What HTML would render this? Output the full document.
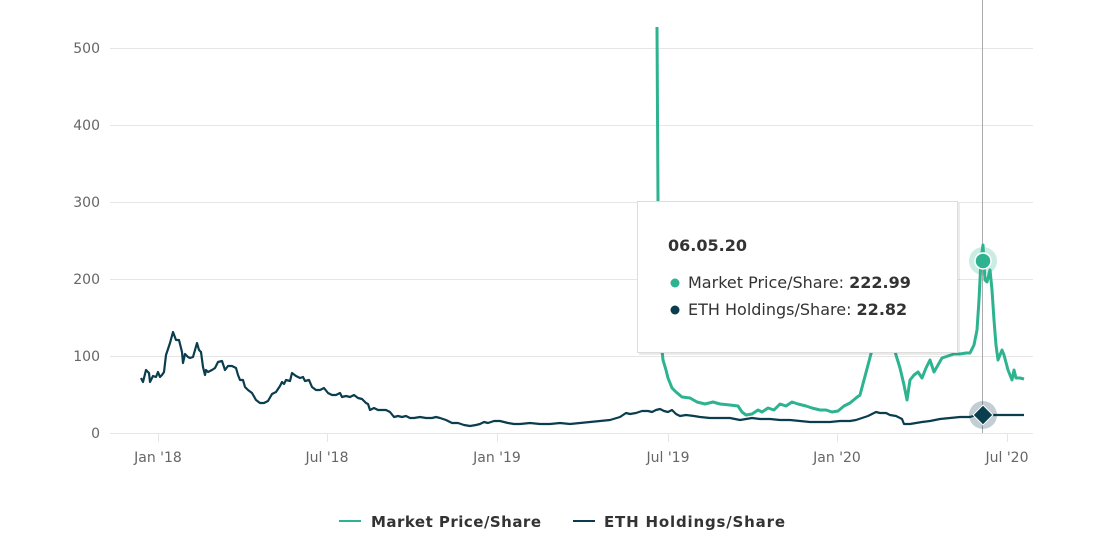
<!DOCTYPE html>
<html><head><style>
body{margin:0;background:#fff;}
svg text{font-family:"DejaVu Sans","Liberation Sans",sans-serif;}
</style></head><body>
<svg width="1119" height="554" viewBox="0 0 1119 554" xmlns="http://www.w3.org/2000/svg">
<g stroke="#e6e6e6" stroke-width="1">
<line x1="110" x2="1033" y1="48.5" y2="48.5"/>
<line x1="110" x2="1033" y1="125.5" y2="125.5"/>
<line x1="110" x2="1033" y1="202.5" y2="202.5"/>
<line x1="110" x2="1033" y1="279.5" y2="279.5"/>
<line x1="110" x2="1033" y1="356.5" y2="356.5"/>
<line x1="110" x2="1033" y1="433.5" y2="433.5"/>
</g>
<g stroke="#e6e6e6" stroke-width="1">
<line x1="158.5" x2="158.5" y1="434" y2="442"/>
<line x1="327.5" x2="327.5" y1="434" y2="442"/>
<line x1="497.5" x2="497.5" y1="434" y2="442"/>
<line x1="668.5" x2="668.5" y1="434" y2="442"/>
<line x1="837.5" x2="837.5" y1="434" y2="442"/>
<line x1="1007.5" x2="1007.5" y1="434" y2="442"/>
</g>
<g fill="#666" font-size="14" text-anchor="end">
<text x="100" y="53">500</text>
<text x="100" y="130">400</text>
<text x="100" y="207">300</text>
<text x="100" y="284">200</text>
<text x="100" y="361">100</text>
<text x="100" y="438">0</text>
</g>
<g fill="#666" font-size="14" text-anchor="middle">
<text x="158" y="462">Jan '18</text>
<text x="327" y="462">Jul '18</text>
<text x="497" y="462">Jan '19</text>
<text x="668" y="462">Jul '19</text>
<text x="837" y="462">Jan '20</text>
<text x="1007" y="462">Jul '20</text>
</g>
<line x1="982.5" x2="982.5" y1="0" y2="433" stroke="#aaa" stroke-width="1"/>
<polyline fill="none" stroke="#2db390" stroke-width="3" stroke-linejoin="round" points="657,27 658,200 660,330 663,360 666,370 668,378 672,388 676,392 682,397 690,398 697,402 705,404 713,402 720,404 730,405 738,406 742,412 746,415 752,414 758,410 762,412 768,408 774,410 780,404 786,406 792,402 798,404 806,406 812,408 820,410 826,410 832,412 838,411 844,406 850,403 856,398 860,395 864,380 868,365 872,350 876,340 880,330 884,325 890,330 896,355 900,368 904,385 907,400 910,380 914,375 918,372 922,378 926,368 930,360 934,372 938,365 942,358 948,356 954,354 960,354 966,353 970,353 974,345 977,330 979,300 981,260 983,245 985,280 987,282 990,270 992,290 994,320 996,345 998,360 1002,350 1004,355 1008,370 1012,380 1014,370 1016,378 1020,378 1024,379"/>
<polyline fill="none" stroke="#0a3d4e" stroke-width="2.2" stroke-linejoin="round" points="141,378 143,382 146,370 149,373 150,382 153,376 156,377 158,372 160,377 162,375 164,372 166,355 170,343 173,332 176,340 179,340 182,352 183,363 185,354 188,357 190,358 193,357 195,350 197,343 199,350 201,352 203,367 205,375 206,370 208,372 212,370 215,368 218,362 222,361 225,370 228,366 232,366 236,368 238,375 240,380 243,380 245,387 248,390 252,393 256,400 260,403 264,403 268,401 272,394 276,392 280,386 282,382 284,384 286,380 290,381 292,373 296,376 300,378 303,377 305,381 309,380 312,387 316,390 320,390 324,388 328,393 332,395 336,395 340,393 342,397 346,396 350,397 354,395 358,398 362,399 364,401 366,403 368,404 370,410 374,408 378,410 382,410 386,410 390,412 394,417 398,416 402,417 406,416 410,418 414,418 420,417 426,418 432,418 436,417 440,418 446,420 452,423 458,423 464,425 470,426 476,425 480,424 484,422 488,423 494,421 500,421 508,423 514,424 520,424 530,423 540,424 550,424 560,423 570,424 580,423 590,422 600,421 610,420 620,417 626,413 630,414 636,413 642,411 648,411 652,412 656,410 660,409 664,411 668,412 672,410 676,414 680,416 686,415 694,416 700,417 710,418 720,418 730,418 740,420 746,419 752,418 760,419 770,419 780,420 790,420 800,421 810,422 820,422 830,422 840,421 850,421 856,420 862,418 868,416 872,414 876,412 880,413 886,413 890,415 896,416 902,419 904,424 910,424 916,423 922,422 930,421 940,419 950,418 960,417 970,417 976,415 982,415 990,415 1000,415 1010,415 1020,415 1024,415"/>
<circle cx="983" cy="261" r="14" fill="#2db390" opacity="0.25"/>
<circle cx="983" cy="261" r="8" fill="#2db390" stroke="#fff" stroke-width="1.5"/>
<circle cx="983" cy="415" r="14" fill="#0a3d4e" opacity="0.25"/>
<rect x="976" y="408" width="14" height="14" fill="#0a3d4e" stroke="#fff" stroke-width="1" transform="rotate(45 983 415)"/>
<rect x="639" y="203" width="321" height="152" fill="#000" opacity="0.08"/>
<rect x="637.5" y="201.5" width="320" height="151" fill="#fff" stroke="#ddd" stroke-width="1"/>
<text x="668" y="251" font-size="16" font-weight="bold" fill="#333">06.05.20</text>
<circle cx="675" cy="283" r="4.5" fill="#2db390"/>
<text x="688" y="288" font-size="16" fill="#333">Market Price/Share: <tspan font-weight="bold">222.99</tspan></text>
<circle cx="675" cy="310" r="4.5" fill="#0a3d4e"/>
<text x="688" y="315" font-size="16" fill="#333">ETH Holdings/Share: <tspan font-weight="bold">22.82</tspan></text>
<line x1="339" x2="361" y1="521" y2="521" stroke="#2db390" stroke-width="2"/>
<text x="371" y="527" font-size="15" font-weight="bold" fill="#333" textLength="170">Market Price/Share</text>
<line x1="573" x2="595" y1="521" y2="521" stroke="#0a3d4e" stroke-width="2"/>
<text x="604" y="527" font-size="15" font-weight="bold" fill="#333" textLength="181">ETH Holdings/Share</text>
</svg>
</body></html>
